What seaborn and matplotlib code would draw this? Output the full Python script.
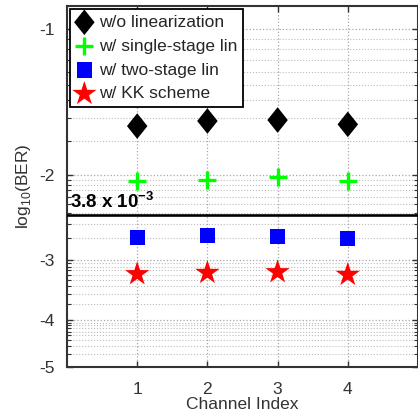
import numpy as np
import pandas as pd
import matplotlib
matplotlib.use("Agg")
import matplotlib.pyplot as plt
import seaborn as sns
from matplotlib.ticker import FixedLocator, FixedFormatter

# ---------------- data ----------------
channels = [1, 2, 3, 4]
ber_no_lin = [-1.585, -1.547, -1.54, -1.572]
ber_single = [-2.06, -2.05, -2.02, -2.06]
ber_two = [-2.70, -2.675, -2.68, -2.705]
ber_kk = [-3.21, -3.19, -3.18, -3.22]
labels = ["w/o linearization", "w/ single-stage lin", "w/ two-stage lin", "w/ KK scheme"]
threshold = np.log10(3.8e-3)
ytick_vals = [-1, -2, -3, -4, -5]
ytick_labels = ["-1", "-2", "-3", "-4", "-5"]
xtick_vals = [1, 2, 3, 4]

sns.set_style("white")
plt.rcParams['font.family'] = ['Liberation Sans', 'DejaVu Sans']
plt.rcParams['mathtext.fontset'] = 'custom'
plt.rcParams['mathtext.rm'] = 'Liberation Sans'
plt.rcParams['mathtext.bf'] = 'Liberation Sans:bold'

fig = plt.figure(figsize=(4.18, 4.17), dpi=100)
ax = fig.add_axes([67/418, 50/417, 1 - 67/418, 361/417])

def fwd(v):
    v = np.asarray(v, dtype=float)
    return -np.log10(np.clip(-v, 1e-9, None))

def inv(y):
    return -np.power(10.0, -np.asarray(y, dtype=float))

ax.set_yscale('function', functions=(fwd, inv))

# grid lines
minor = []
for n in range(2, 6):
    for k in range(2, 10):
        minor.append(-n + np.log10(k))
ax.yaxis.set_major_locator(FixedLocator(ytick_vals))
ax.yaxis.set_major_formatter(FixedFormatter(ytick_labels))
ax.yaxis.set_minor_locator(FixedLocator(minor))
ax.xaxis.set_major_locator(FixedLocator(xtick_vals))
ax.grid(True, which='major', color='#a8a8a8', linestyle=':', linewidth=0.9)
ax.grid(True, which='minor', axis='y', color='#bcbcbc', linestyle=':', linewidth=0.8)

series = [
    (ber_no_lin, [(0, 1), (0.8, 0), (0, -1), (-0.8, 0)], 'black', 340, 0),
    (ber_single, '+', '#00ff00', 150, 2.4),
    (ber_two, 's', '#0000ff', 120, 0),
    (ber_kk, '*', '#ff0000', 340, 0),
]
for (vals, mk, col, s, lw), lab in zip(series, labels):
    df = pd.DataFrame({'ch': channels, 'ber': vals})
    sns.scatterplot(data=df, x='ch', y='ber', marker=mk, color=col, s=s,
                    linewidth=lw, edgecolor=col if lw else 'none', ax=ax,
                    label=lab, zorder=3)

ax.axhline(threshold, color='black', linewidth=1.9, zorder=4)
ax.text(0.04, threshold + 0.035, r'3.8 x 10$^{\mathbf{-3}}$', fontsize=13.5,
        fontweight='bold', ha='left', va='bottom', color='black', zorder=5)

ax.set_xlim(0, 5)
ax.set_ylim(-5, -0.894)

for sp in ax.spines.values():
    sp.set_visible(True)
    sp.set_color('#333333')
    sp.set_linewidth(1.5)

ax.tick_params(axis='both', which='major', direction='in', length=4, width=1,
               labelsize=12.5, colors='#333333', labelcolor='#333333',
               top=True, right=True, left=True, bottom=True)
ax.tick_params(axis='x', which='major', pad=11)
ax.tick_params(axis='y', which='major', pad=9)
ax.tick_params(axis='y', which='minor', direction='in', length=3, width=0.8,
               left=True, right=True, colors='#333333')

ax.set_xlabel('Channel Index', fontsize=12.5, color='#333333', labelpad=0)
ax.set_ylabel(r'log$_{10}$(BER)', fontsize=12.5, color='#333333', labelpad=4)

leg = ax.legend(loc='upper left', fontsize=12.5, frameon=True, fancybox=False,
                handlelength=1.0, handletextpad=0.35, borderpad=0.3,
                borderaxespad=0.2, labelspacing=0.5, framealpha=1)
leg.get_frame().set_edgecolor('black')
leg.get_frame().set_linewidth(1.3)

fig.savefig('out.png', dpi=100)
